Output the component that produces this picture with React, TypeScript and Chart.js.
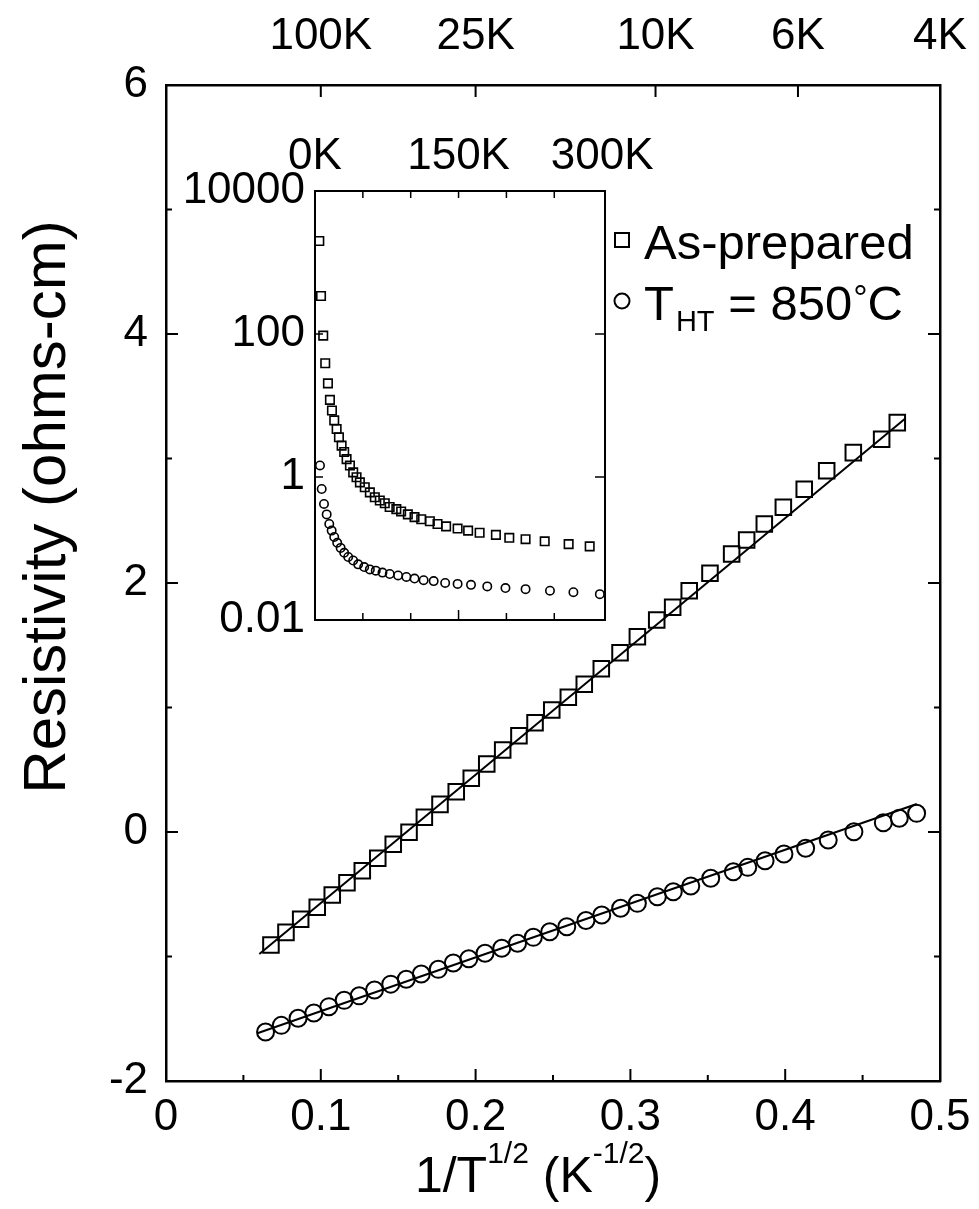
import React, { useEffect, useRef } from "react";
import { Chart, registerables } from "chart.js";
Chart.register(...registerables);

const FONT = "'Liberation Sans', Arial, Helvetica, sans-serif";

// ---------- main plot data: log10(resistivity) vs 1/T^(1/2) ----------
const asPreparedX = [0.0678, 0.0775, 0.087, 0.0977, 0.1074, 0.1169, 0.1268, 0.1368, 0.1468, 0.157, 0.1669, 0.177, 0.1875, 0.1972, 0.2072, 0.2175, 0.228, 0.2384, 0.2492, 0.2599, 0.2702, 0.2812, 0.2933, 0.3045, 0.317, 0.3273, 0.338, 0.3514, 0.3654, 0.3751, 0.3865, 0.3988, 0.4123, 0.4268, 0.444, 0.4623, 0.4724];
const asPreparedY = [-0.908, -0.806, -0.701, -0.605, -0.506, -0.407, -0.311, -0.211, -0.099, -0.002, 0.118, 0.222, 0.324, 0.431, 0.546, 0.659, 0.773, 0.878, 0.98, 1.082, 1.186, 1.312, 1.44, 1.569, 1.703, 1.805, 1.938, 2.078, 2.233, 2.345, 2.474, 2.608, 2.753, 2.902, 3.047, 3.154, 3.288];
const annealedX = [0.0643, 0.0745, 0.0853, 0.0955, 0.1052, 0.1151, 0.1248, 0.1347, 0.1452, 0.1552, 0.1649, 0.1759, 0.1856, 0.1956, 0.2061, 0.2169, 0.2271, 0.2373, 0.2479, 0.2589, 0.2713, 0.2815, 0.2937, 0.3045, 0.3174, 0.3277, 0.339, 0.3519, 0.3665, 0.3758, 0.387, 0.3992, 0.4132, 0.4278, 0.4444, 0.4634, 0.4737, 0.4849];
const annealedY = [-1.606, -1.553, -1.496, -1.454, -1.403, -1.352, -1.316, -1.269, -1.222, -1.183, -1.141, -1.103, -1.052, -1.018, -0.974, -0.934, -0.894, -0.846, -0.801, -0.761, -0.711, -0.667, -0.613, -0.573, -0.52, -0.48, -0.434, -0.372, -0.319, -0.284, -0.231, -0.177, -0.131, -0.064, 0.002, 0.075, 0.11, 0.15];
const fitAsPreparedX = [0.0603, 0.4774];
const fitAsPreparedY = [-0.98, 3.32];
const fitAnnealedX = [0.059, 0.485];
const fitAnnealedY = [-1.617, 0.225];

const bottomTickValues = [0, 0.1, 0.2, 0.3, 0.4, 0.5];
const bottomTickLabels = ["0", "0.1", "0.2", "0.3", "0.4", "0.5"];
const bottomMinorTicks = [0.05, 0.15, 0.25, 0.35, 0.45];
const leftTickValues = [-2, 0, 2, 4, 6];
const leftTickLabels = ["-2", "0", "2", "4", "6"];
const leftMinorTicks = [-1, 1, 3, 5];
const topTempK = [100, 25, 10, 6, 4];
const topTempLabels = ["100K", "25K", "10K", "6K", "4K"];

// ---------- inset data: resistivity (log) vs T ----------
const insetAsPreparedT = [4.5, 6.3, 8.6, 10.7, 13.5, 15.6, 17.7, 20.1, 22.6, 25, 27.8, 30.5, 33, 36.5, 39.9, 43.4, 46.9, 52, 57.3, 62.5, 67.7, 72.9, 78, 85, 90, 97, 104, 111, 120, 128, 137, 149, 160, 172, 189, 203, 220, 240, 265, 287];
const insetAsPreparedR = [2000, 340, 95, 39, 20.4, 12, 8.5, 6.2, 4.7, 3.6, 2.75, 2.24, 1.78, 1.45, 1.16, 0.99, 0.84, 0.72, 0.61, 0.52, 0.47, 0.43, 0.38, 0.355, 0.33, 0.3, 0.275, 0.257, 0.24, 0.22, 0.204, 0.19, 0.178, 0.166, 0.155, 0.141, 0.135, 0.126, 0.115, 0.107];
const insetAnnealedT = [5.2, 7.0, 9.4, 12.2, 14.9, 17.4, 20.1, 23.2, 26.8, 30.5, 34.7, 39.9, 45.1, 51.4, 57.3, 63.5, 70.5, 78.1, 86.8, 95.5, 104, 113.5, 124, 136, 149, 163, 180, 199, 220, 245.5, 270, 297.6];
const insetAnnealedR = [1.45, 0.68, 0.42, 0.3, 0.22, 0.178, 0.145, 0.12, 0.102, 0.087, 0.076, 0.068, 0.06, 0.055, 0.051, 0.049, 0.046, 0.044, 0.042, 0.04, 0.038, 0.036, 0.035, 0.033, 0.032, 0.031, 0.0295, 0.028, 0.027, 0.0257, 0.0245, 0.023];
const insetTopTickValues = [0, 150, 300];
const insetTopTickLabels = ["0K", "150K", "300K"];
const insetMinorTTicks = [50, 100, 150, 200, 250];
const insetYTickValues = [0.01, 1, 100, 10000];
const insetYTickLabels = ["0.01", "1", "100", "10000"];

const zip = (xs: number[], ys: number[]) => xs.map((x, i) => ({ x, y: ys[i] }));

const axisFont = { family: FONT, size: 44 };

function drawLines(ctx: CanvasRenderingContext2D, segs: number[][], w: number) {
  ctx.save();
  ctx.strokeStyle = "#000";
  ctx.lineWidth = w;
  ctx.beginPath();
  for (const s of segs) {
    ctx.moveTo(s[0], s[1]);
    ctx.lineTo(s[2], s[3]);
  }
  ctx.stroke();
  ctx.restore();
}

// keep axis boxes at fixed sizes and stop label overflow from shrinking the plot
const fixH = (h: number) => (s: any) => {
  s.height = h;
  s.paddingLeft = 0;
  s.paddingRight = 0;
};
const fixW = (w: number) => (s: any) => {
  s.width = w;
  s.paddingTop = 0;
  s.paddingBottom = 0;
};

export default function App() {
  const mainRef = useRef<HTMLCanvasElement>(null);
  const insetRef = useRef<HTMLCanvasElement>(null);

  useEffect(() => {
    document.body.style.margin = "0";
    if (!mainRef.current || !insetRef.current) return;

    const mainTicks = {
      id: "mainTicks",
      afterDraw(chart: any) {
        const a = chart.chartArea;
        const x = chart.scales.x;
        const xt = chart.scales.xTop;
        const y = chart.scales.y;
        const segs: number[][] = [];
        for (const v of bottomTickValues) {
          const p = x.getPixelForValue(v);
          segs.push([p, a.bottom, p, a.bottom - 12]);
        }
        for (const v of bottomMinorTicks) {
          const p = x.getPixelForValue(v);
          segs.push([p, a.bottom, p, a.bottom - 6]);
        }
        for (const T of topTempK) {
          const p = xt.getPixelForValue(1 / Math.sqrt(T));
          segs.push([p, a.top, p, a.top + 12]);
        }
        for (const v of leftTickValues) {
          const p = y.getPixelForValue(v);
          segs.push([a.left, p, a.left + 12, p]);
          segs.push([a.right, p, a.right - 12, p]);
        }
        for (const v of leftMinorTicks) {
          const p = y.getPixelForValue(v);
          segs.push([a.left, p, a.left + 6, p]);
          segs.push([a.right, p, a.right - 6, p]);
        }
        drawLines(chart.ctx, segs, 2);
      },
    };

    const mainText = {
      id: "mainText",
      afterDraw(chart: any) {
        const ctx = chart.ctx as CanvasRenderingContext2D;
        ctx.save();
        ctx.fillStyle = "#000";
        // y title
        ctx.save();
        ctx.translate(48, 507);
        ctx.rotate(-Math.PI / 2);
        ctx.font = `60px ${FONT}`;
        ctx.textAlign = "center";
        ctx.textBaseline = "middle";
        ctx.fillText("Resistivity (ohms-cm)", 0, 0);
        ctx.restore();
        // x title with superscripts
        const parts = [
          { t: "1/T", s: 50, dy: 0 },
          { t: "1/2", s: 30, dy: -29 },
          { t: " (K", s: 50, dy: 0 },
          { t: "-1/2", s: 30, dy: -29 },
          { t: ")", s: 50, dy: 0 },
        ];
        let total = 0;
        for (const p of parts) {
          ctx.font = `${p.s}px ${FONT}`;
          total += ctx.measureText(p.t).width;
        }
        let cx = 538 - total / 2;
        ctx.textAlign = "left";
        ctx.textBaseline = "alphabetic";
        for (const p of parts) {
          ctx.font = `${p.s}px ${FONT}`;
          ctx.fillText(p.t, cx, 1192 + p.dy);
          cx += ctx.measureText(p.t).width;
        }
        // legend
        ctx.strokeStyle = "#000";
        ctx.lineWidth = 2;
        ctx.strokeRect(615, 233, 14, 14);
        ctx.beginPath();
        ctx.arc(622, 301, 7.5, 0, Math.PI * 2);
        ctx.stroke();
        ctx.font = `49px ${FONT}`;
        ctx.fillText("As-prepared", 644, 259);
        let lx = 644;
        ctx.fillText("T", lx, 320);
        lx += ctx.measureText("T").width + 2;
        ctx.font = `29px ${FONT}`;
        ctx.fillText("HT", lx, 331);
        lx += ctx.measureText("HT").width;
        ctx.font = `49px ${FONT}`;
        ctx.fillText(" = 850", lx, 320);
        lx += ctx.measureText(" = 850").width + 1;
        ctx.font = `36px ${FONT}`;
        ctx.fillText("°", lx, 311);
        lx += ctx.measureText("°").width;
        ctx.font = `49px ${FONT}`;
        ctx.fillText("C", lx, 320);
        ctx.restore();
      },
    };

    const mainChart = new Chart(mainRef.current, {
      type: "scatter",
      data: {
        datasets: [
          {
            label: "As-prepared",
            data: zip(asPreparedX, asPreparedY),
            pointStyle: "rect",
            pointRadius: 11,
            borderColor: "#000",
            backgroundColor: "rgba(0,0,0,0)",
            borderWidth: 2,
          },
          {
            label: "T_HT = 850°C",
            data: zip(annealedX, annealedY),
            pointStyle: "circle",
            pointRadius: 8.5,
            borderColor: "#000",
            backgroundColor: "rgba(0,0,0,0)",
            borderWidth: 2,
          },
          {
            label: "fit as-prepared",
            data: zip(fitAsPreparedX, fitAsPreparedY),
            showLine: true,
            pointRadius: 0,
            borderColor: "#000",
            borderWidth: 2,
          },
          {
            label: "fit 850",
            data: zip(fitAnnealedX, fitAnnealedY),
            showLine: true,
            pointRadius: 0,
            borderColor: "#000",
            borderWidth: 2,
          },
        ],
      } as any,
      options: {
        animation: false,
        responsive: false,
        devicePixelRatio: 1,
        layout: { padding: 0 },
        plugins: { legend: { display: false }, tooltip: { enabled: false } },
        scales: {
          x: {
            type: "linear",
            position: "bottom",
            min: 0,
            max: 0.5,
            afterBuildTicks: (s: any) => {
              s.ticks = bottomTickValues.map((v) => ({ value: v }));
            },
            afterFit: fixH(128),
            ticks: {
              callback: (_v: any, i: number) => bottomTickLabels[i],
              font: axisFont,
              color: "#000",
              padding: 10,
              autoSkip: false,
              maxRotation: 0,
            },
            grid: { display: false, drawTicks: false },
            border: { display: true, color: "#000", width: 2.5 },
          },
          xTop: {
            type: "linear",
            position: "top",
            min: 0,
            max: 0.5,
            afterBuildTicks: (s: any) => {
              s.ticks = topTempK.map((T) => ({ value: 1 / Math.sqrt(T) }));
            },
            afterFit: fixH(85),
            ticks: {
              callback: (_v: any, i: number) => topTempLabels[i],
              font: axisFont,
              color: "#000",
              padding: 22,
              autoSkip: false,
              maxRotation: 0,
            },
            grid: { display: false, drawTicks: false },
            border: { display: true, color: "#000", width: 2.5 },
          },
          y: {
            type: "linear",
            position: "left",
            min: -2,
            max: 6,
            afterBuildTicks: (s: any) => {
              s.ticks = leftTickValues.map((v) => ({ value: v }));
            },
            afterFit: fixW(166),
            ticks: {
              callback: (_v: any, i: number) => leftTickLabels[i],
              font: axisFont,
              color: "#000",
              padding: 18,
              autoSkip: false,
            },
            grid: { display: false, drawTicks: false },
            border: { display: true, color: "#000", width: 2.5 },
          },
          yRight: {
            type: "linear",
            position: "right",
            min: -2,
            max: 6,
            afterFit: fixW(39),
            ticks: { display: false },
            grid: { display: false, drawTicks: false },
            border: { display: true, color: "#000", width: 2.5 },
          },
        },
      } as any,
      plugins: [mainTicks, mainText],
    });

    const insetTicks = {
      id: "insetTicks",
      afterDraw(chart: any) {
        const a = chart.chartArea;
        const x = chart.scales.x;
        const y = chart.scales.y;
        const segs: number[][] = [];
        for (const v of insetMinorTTicks) {
          const p = x.getPixelForValue(v);
          const len = v === 150 ? 10 : 7;
          segs.push([p, a.bottom, p, a.bottom - len]);
          segs.push([p, a.top, p, a.top + 7]);
        }
        for (const v of insetYTickValues) {
          const p = y.getPixelForValue(v);
          segs.push([a.left, p, a.left + 8, p]);
          segs.push([a.right, p, a.right - 10, p]);
        }
        drawLines(chart.ctx, segs, 1.5);
      },
    };

    const insetChart = new Chart(insetRef.current, {
      type: "scatter",
      data: {
        datasets: [
          {
            label: "As-prepared",
            data: zip(insetAsPreparedT, insetAsPreparedR),
            pointStyle: "rect",
            pointRadius: 6,
            borderColor: "#000",
            backgroundColor: "rgba(0,0,0,0)",
            borderWidth: 1.6,
          },
          {
            label: "850",
            data: zip(insetAnnealedT, insetAnnealedR),
            pointStyle: "circle",
            pointRadius: 4.2,
            borderColor: "#000",
            backgroundColor: "rgba(0,0,0,0)",
            borderWidth: 1.6,
          },
        ],
      } as any,
      options: {
        animation: false,
        responsive: false,
        devicePixelRatio: 1,
        layout: { padding: 0 },
        plugins: { legend: { display: false }, tooltip: { enabled: false } },
        scales: {
          x: {
            type: "linear",
            position: "bottom",
            min: 0,
            max: 303,
            afterFit: fixH(30),
            ticks: { display: false },
            grid: { display: false, drawTicks: false },
            border: { display: true, color: "#000", width: 2 },
          },
          xTop: {
            type: "linear",
            position: "top",
            min: 0,
            max: 303,
            afterBuildTicks: (s: any) => {
              s.ticks = insetTopTickValues.map((v) => ({ value: v }));
            },
            afterFit: fixH(96),
            ticks: {
              callback: (_v: any, i: number) => insetTopTickLabels[i],
              font: axisFont,
              color: "#000",
              padding: 8,
              autoSkip: false,
              maxRotation: 0,
            },
            grid: { display: false, drawTicks: false },
            border: { display: true, color: "#000", width: 2 },
          },
          y: {
            type: "logarithmic",
            position: "left",
            min: 0.01,
            max: 10000,
            afterBuildTicks: (s: any) => {
              s.ticks = insetYTickValues.map((v) => ({ value: v }));
            },
            afterFit: fixW(145),
            ticks: {
              callback: (_v: any, i: number) => insetYTickLabels[i],
              font: axisFont,
              color: "#000",
              padding: 10,
              autoSkip: false,
            },
            grid: { display: false, drawTicks: false },
            border: { display: true, color: "#000", width: 2 },
          },
          yRight: {
            type: "logarithmic",
            position: "right",
            min: 0.01,
            max: 10000,
            afterFit: fixW(65),
            ticks: { display: false },
            grid: { display: false, drawTicks: false },
            border: { display: true, color: "#000", width: 2 },
          },
        },
      } as any,
      plugins: [insetTicks],
    });

    return () => {
      mainChart.destroy();
      insetChart.destroy();
    };
  }, []);

  return (
    <div style={{ position: "relative", width: 979, height: 1209, background: "#fff" }}>
      <canvas
        ref={mainRef}
        width={979}
        height={1209}
        style={{ position: "absolute", left: 0, top: 0, width: 979, height: 1209 }}
      />
      <canvas
        ref={insetRef}
        width={500}
        height={555}
        style={{ position: "absolute", left: 170, top: 95, width: 500, height: 555 }}
      />
    </div>
  );
}
